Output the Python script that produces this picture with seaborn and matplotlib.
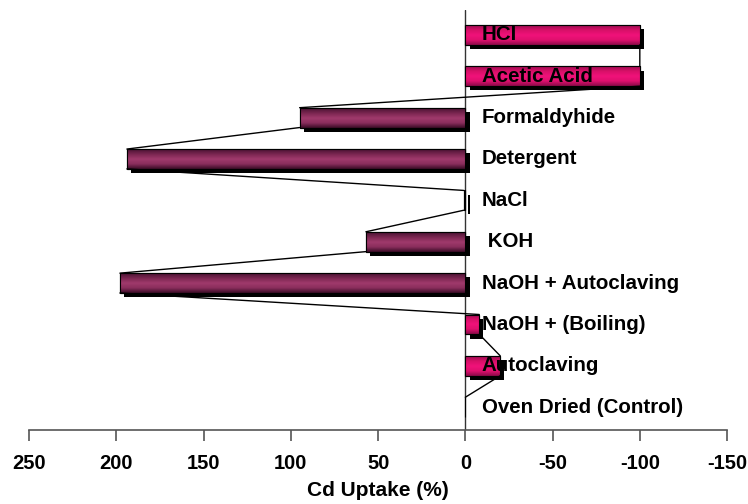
import numpy as np
import pandas as pd
import seaborn as sns
import matplotlib.pyplot as plt
import matplotlib.patheffects as pe
from matplotlib.colors import LinearSegmentedColormap

# data (top to bottom)
treatments = ["HCl", "Acetic Acid", "Formaldyhide", "Detergent", "NaCl", " KOH",
              "NaOH + Autoclaving", "NaOH + (Boiling)", "Autoclaving", "Oven Dried (Control)"]
uptake = [-100, -100, 95, 194, 1, 57, 198, -8, -20, 0]
x_ticks = [250, 200, 150, 100, 50, 0, -50, -100, -150]

df = pd.DataFrame({"treatment": treatments, "uptake": uptake})

sns.set_style("white")
plt.rcParams['font.family'] = ['Liberation Sans', 'DejaVu Sans']
plt.rcParams['text.color'] = 'black'
plt.rcParams['xtick.color'] = 'black'
plt.rcParams['axes.labelcolor'] = 'black'

fig, ax = plt.subplots(figsize=(7.48, 5.04), dpi=100)
fig.subplots_adjust(left=0.039, right=0.972, bottom=0.147, top=0.980)

bar_h = 0.48
sns.barplot(data=df, x="uptake", y="treatment", orient="h", ax=ax,
            width=bar_h, color="#9b3568", edgecolor="black", linewidth=0.8,
            zorder=3)

# series lines: bottom of one bar end to top of the next bar end
xs, ys = [], []
for i in range(len(uptake) - 1):
    xs += [uptake[i], uptake[i + 1], np.nan]
    ys += [i + bar_h / 2, i + 1 - bar_h / 2, np.nan]
ax.plot(xs, ys, color="black", lw=1.0, zorder=4)

maroon = LinearSegmentedColormap.from_list("m", ["#4a1232", "#7a2650", "#a03a6c", "#8a2e5c", "#3a0c26"])
pink = LinearSegmentedColormap.from_list("p", ["#9a0c50", "#d81068", "#f0127a", "#e0106e", "#8a0a48"])
grad = np.linspace(0, 1, 64).reshape(-1, 1)

for patch, v in zip(ax.patches, uptake):
    if v == 0:
        continue
    patch.set_path_effects([pe.SimplePatchShadow(offset=(3, -3), shadow_rgbFace="black", alpha=1.0),
                            pe.Normal()])
    x0, y0 = patch.get_x(), patch.get_y()
    w, h = patch.get_width(), patch.get_height()
    im = ax.imshow(grad, cmap=pink if v < 0 else maroon, aspect="auto",
                   extent=(x0, x0 + w, y0 + h, y0), zorder=3.5, origin="upper")
    im.set_clip_path(patch)
    edge = plt.Rectangle((x0, y0), w, h, fill=False, edgecolor="black", lw=0.8, zorder=3.6)
    ax.add_patch(edge)

ax.set_xlim(250, -150)
ax.set_ylim(len(df) - 0.5 + 0.05, -0.6)
ax.set_xticks(x_ticks)
ax.set_xticklabels([str(t) for t in x_ticks], fontsize=14.5, fontweight="bold")
ax.set_yticks([])
ax.set_ylabel("")
ax.set_xlabel("Cd Uptake (%)", fontsize=15, fontweight="bold", labelpad=6)

for i, name in enumerate(treatments):
    ax.text(-9.5, i, name, fontsize=14.8, fontweight="bold", va="center", ha="left", zorder=5)

for s in ["top", "right", "left"]:
    ax.spines[s].set_visible(False)
ax.spines["bottom"].set_color("#555555")
ax.spines["bottom"].set_linewidth(1.2)
ax.axvline(0, color="#333333", lw=1.0, zorder=2)
ax.tick_params(axis="x", direction="out", length=8, width=1.2, color="#555555", labelcolor="black",
               pad=9, bottom=True)

plt.savefig("out.png", dpi=100)
